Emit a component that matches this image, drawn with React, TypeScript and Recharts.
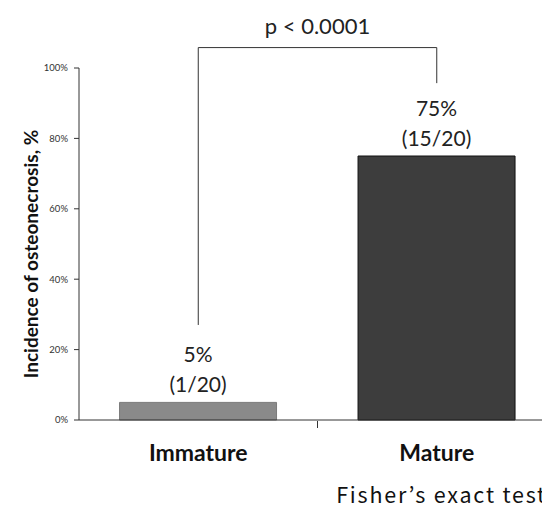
import React from 'react';
import { BarChart, Bar, XAxis, YAxis, LabelList, ReferenceLine, Cell, Label } from 'recharts';

// Incidence of osteonecrosis by skeletal maturity
const groups = ['Immature', 'Mature'];
const affected = [1, 15];
const totals = [20, 20];
const barColors = ['#8a8a8a', '#3d3d3d'];
const barStrokes = ['#7a7a7a', '#111111'];
const yTicks = [0, 0.2, 0.4, 0.6, 0.8, 1];

const pValueText = 'p < 0.0001';
const testName = 'Fisher\u2019s exact test';

// bracket heights (fraction of axis) for the significance marker
const bracketTop = 1.058;
const bracketLeftEnd = 0.27;
const bracketRightEnd = 0.957;

const data = groups.map((g, i) => ({
  name: g,
  value: affected[i] / totals[i],
  n: affected[i],
  total: totals[i],
}));

const FONT = 'Lato, "Noto Sans", sans-serif';

const CategoryTick = (props: any) => {
  const { x, y, payload, index } = props;
  const half = payload && payload.offset != null ? payload.offset : 119;
  return (
    <g>
      <text
        x={x}
        y={y + 41}
        textAnchor="middle"
        fontFamily={FONT}
        fontWeight="bold"
        fontSize={23}
        fill="#111"
      >
        {payload.value}
      </text>
      {index === 0 && (
        <line x1={x + half} x2={x + half} y1={y + 1} y2={y + 8} stroke="#333" strokeWidth={1} />
      )}
    </g>
  );
};

const ValueLabel = (props: any) => {
  const { x, y, width, index } = props;
  const d = data[index];
  const cx = x + width / 2;
  return (
    <g fontFamily={FONT} fontSize={21} fill="#222" textAnchor="middle">
      <text x={cx} y={y - 40}>{`${Math.round(d.value * 100)}%`}</text>
      <text x={cx} y={y - 10}>{`(${d.n}/${d.total})`}</text>
    </g>
  );
};

const YTitle = (props: any) => {
  const vb = props.viewBox || {};
  const cx = 30;
  const cy = (vb.y ?? 68) + (vb.height ?? 352) / 2 + 10;
  return (
    <text
      x={cx}
      y={cy}
      transform={`rotate(-90, ${cx}, ${cy})`}
      textAnchor="middle"
      dominantBaseline="central"
      fontFamily={FONT}
      fontWeight="bold"
      fontSize={19}
      fill="#111"
    >
      Incidence of osteonecrosis, %
    </text>
  );
};

export default function App() {
  return (
    <div style={{ margin: -8, width: 550, height: 513, background: '#fff', overflow: 'hidden' }}>
      <BarChart
        width={550}
        height={513}
        data={data}
        margin={{ top: 68, right: -6, bottom: 0, left: 0 }}
        barCategoryGap="17%"
      >
        <YAxis
          width={79}
          domain={[0, 1]}
          ticks={yTicks}
          tickFormatter={(v: number) => `${Math.round(v * 100)}%`}
          tick={{ fontSize: 9.5, fill: '#333', fontFamily: FONT }}
          tickSize={5}
          tickMargin={6}
          axisLine={{ stroke: '#333' }}
          tickLine={{ stroke: '#333' }}
        >
          <Label content={<YTitle />} />
        </YAxis>
        <XAxis
          dataKey="name"
          height={93}
          tickSize={0}
          tickMargin={0}
          tickLine={false}
          axisLine={{ stroke: '#333' }}
          tick={<CategoryTick />}
          interval={0}
        />
        <Bar dataKey="value" isAnimationActive={false}>
          {data.map((d, i) => (
            <Cell key={d.name} fill={barColors[i]} stroke={barStrokes[i]} strokeWidth={1} />
          ))}
          <LabelList dataKey="value" content={<ValueLabel />} />
        </Bar>
        <ReferenceLine
          ifOverflow="visible"
          segment={[{ x: groups[0], y: bracketTop }, { x: groups[1], y: bracketTop }]}
          stroke="#333"
          strokeWidth={1}
        >
          <Label
            value={pValueText}
            position="top"
            offset={14}
            fontSize={22}
            fontFamily={FONT}
            fill="#222"
          />
        </ReferenceLine>
        <ReferenceLine
          ifOverflow="visible"
          segment={[{ x: groups[0], y: bracketTop }, { x: groups[0], y: bracketLeftEnd }]}
          stroke="#333"
          strokeWidth={1}
        />
        <ReferenceLine
          ifOverflow="visible"
          segment={[{ x: groups[1], y: bracketTop }, { x: groups[1], y: bracketRightEnd }]}
          stroke="#333"
          strokeWidth={1}
        />
        <text
          x={547}
          y={503}
          textAnchor="end"
          fontFamily='"Noto Sans CJK JP", sans-serif'
          fontSize={21.5}
          letterSpacing={1.8}
          fill="#111"
        >
          {testName}
        </text>
      </BarChart>
    </div>
  );
}
